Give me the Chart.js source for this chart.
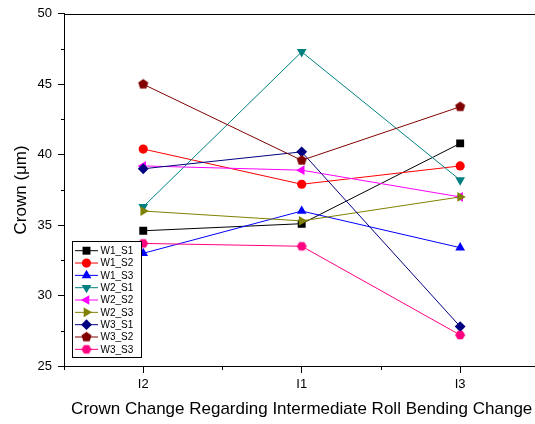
<!DOCTYPE html>
<html>
<head>
<meta charset="utf-8">
<script src="https://cdn.jsdelivr.net/npm/chart.js@4"></script>
<style>
  html, body { margin: 0; padding: 0; background: #fff; overflow: hidden; }
  #wrap { width: 545px; height: 424px; }
</style>
</head>
<body>
<div id="wrap"><canvas id="crownChart" width="545" height="424"></canvas></div>
<script>
// Data
const categories = ['I2', 'I1', 'I3'];
const seriesNames = ['W1_S1', 'W1_S2', 'W1_S3', 'W2_S1', 'W2_S2', 'W2_S3', 'W3_S1', 'W3_S2', 'W3_S3'];
const w1s1 = [34.6, 35.1, 40.8];
const w1s2 = [40.4, 37.9, 39.2];
const w1s3 = [33.0, 36.0, 33.4];
const w2s1 = [36.3, 47.3, 38.2];
const w2s2 = [39.2, 38.9, 37.0];
const w2s3 = [36.0, 35.3, 37.0];
const w3s1 = [39.0, 40.2, 27.8];
const w3s2 = [45.0, 39.6, 43.4];
const w3s3 = [33.7, 33.5, 27.2];
const yTicks = [25, 30, 35, 40, 45, 50];

const FONT = "'Liberation Sans', Arial, sans-serif";

// polygon markers that Chart.js doesn't have
function polygonMarker(sides, r, color, startAngle) {
    const c = document.createElement('canvas');
    const size = Math.ceil(r * 2 + 2);
    c.width = size; c.height = size;
    const g = c.getContext('2d');
    g.fillStyle = color;
    g.beginPath();
    for (let k = 0; k < sides; k++) {
        const a = startAngle + k * 2 * Math.PI / sides;
        const px = size / 2 + r * Math.cos(a);
        const py = size / 2 + r * Math.sin(a);
        if (k === 0) g.moveTo(px, py); else g.lineTo(px, py);
    }
    g.closePath();
    g.fill();
    return c;
}

const pentagon = polygonMarker(5, 5.3, '#800000', -Math.PI / 2);
const hexagon = polygonMarker(6, 5, '#FF0080', 0);

const seriesValues = [w1s1, w1s2, w1s3, w2s1, w2s2, w2s3, w3s1, w3s2, w3s3];
const colors = ['#000000', '#FF0000', '#0000FF', '#008080', '#FF00FF', '#808000', '#000080', '#800000', '#FF0080'];
const styles = [
    { pointStyle: 'rect', radius: 5.6, rotation: 0 },
    { pointStyle: 'circle', radius: 4.6, rotation: 0 },
    { pointStyle: 'triangle', radius: 5.6, rotation: 0 },
    { pointStyle: 'triangle', radius: 5.6, rotation: 180 },
    { pointStyle: 'triangle', radius: 5.6, rotation: -90 },
    { pointStyle: 'triangle', radius: 5.6, rotation: 90 },
    { pointStyle: 'rectRot', radius: 5.4, rotation: 0 },
    { pointStyle: pentagon, radius: 5, rotation: 0 },
    { pointStyle: hexagon, radius: 5, rotation: 0 }
];

const datasets = seriesNames.map((name, i) => ({
    label: name,
    data: seriesValues[i],
    borderColor: colors[i],
    backgroundColor: colors[i],
    borderWidth: 1,
    pointStyle: styles[i].pointStyle,
    pointRadius: styles[i].radius,
    pointRotation: styles[i].rotation,
    pointBorderWidth: 0,
    pointBackgroundColor: colors[i],
    tension: 0,
    order: seriesNames.length - i  // later series on top, like Origin
}));

// minor ticks + top frame line
const framePlugin = {
    id: 'frame',
    afterDraw(chart) {
        const ctx = chart.ctx;
        const x = chart.scales.x, y = chart.scales.y;
        const area = chart.chartArea;
        ctx.save();
        ctx.strokeStyle = '#000';
        ctx.lineWidth = 1;
        ctx.beginPath();
        ctx.moveTo(area.left, Math.round(area.top) + 0.5);
        ctx.lineTo(area.right, Math.round(area.top) + 0.5);
        // y minor ticks
        for (let v = 27.5; v < 50; v += 5) {
            const py = Math.round(y.getPixelForValue(v)) + 0.5;
            ctx.moveTo(area.left - 3, py);
            ctx.lineTo(area.left, py);
        }
        // x minor ticks: edges and between categories
        const xs = [area.left];
        for (let i = 0; i < categories.length - 1; i++) {
            xs.push((x.getPixelForValue(i) + x.getPixelForValue(i + 1)) / 2);
        }
        xs.push(area.right);
        xs.forEach(px => {
            const rx = Math.round(px) + 0.5;
            ctx.moveTo(rx, area.bottom);
            ctx.lineTo(rx, area.bottom + 4);
        });
        ctx.stroke();
        ctx.restore();
    }
};

// Origin-like legend box with line + marker samples
const legendPlugin = {
    id: 'originLegend',
    afterDraw(chart) {
        const ctx = chart.ctx;
        const bx = 72.5, by = 241.5, bw = 69, bh = 116;
        ctx.save();
        ctx.fillStyle = '#fff';
        ctx.fillRect(bx, by, bw, bh);
        ctx.strokeStyle = '#000';
        ctx.lineWidth = 1;
        ctx.strokeRect(bx, by, bw, bh);
        chart.data.datasets.forEach((ds, i) => {
            const cy = 250.7 + i * 12.33;
            ctx.strokeStyle = ds.borderColor;
            ctx.lineWidth = 1;
            ctx.beginPath();
            ctx.moveTo(75, cy);
            ctx.lineTo(98, cy);
            ctx.stroke();
            ctx.fillStyle = ds.borderColor;
            ctx.strokeStyle = ds.borderColor;
            Chart.helpers.drawPoint(ctx, {
                pointStyle: ds.pointStyle,
                radius: ds.pointRadius,
                rotation: ds.pointRotation,
                borderWidth: 0
            }, 86.5, cy);
            ctx.fillStyle = '#000';
            ctx.font = '10px ' + FONT;
            ctx.textAlign = 'left';
            ctx.textBaseline = 'middle';
            ctx.fillText(ds.label, 100.5, cy + 0.5);
        });
        ctx.restore();
    }
};

new Chart(document.getElementById('crownChart'), {
    type: 'line',
    data: { labels: categories, datasets: datasets },
    options: {
        responsive: false,
        animation: false,
        devicePixelRatio: 1,
        layout: { padding: { left: 0, top: 13, right: 4, bottom: 0 } },
        plugins: { legend: { display: false }, tooltip: { enabled: false } },
        scales: {
            x: {
                type: 'category',
                offset: true,
                grid: { display: true, drawOnChartArea: false, offset: false, tickLength: 7, color: '#000', lineWidth: 1 },
                border: { display: true, color: '#000', width: 1 },
                ticks: { color: '#000', font: { family: FONT, size: 13 }, padding: 4, maxRotation: 0 },
                title: { display: true, text: 'Crown Change Regarding Intermediate Roll Bending Change', color: '#000', font: { family: FONT, size: 17 }, padding: { top: 0, bottom: 4 } },
                afterFit(scale) { scale.height = 58; }
            },
            y: {
                min: 25,
                max: 50,
                afterBuildTicks(scale) { scale.ticks = yTicks.map(v => ({ value: v })); },
                grid: { display: true, drawOnChartArea: false, tickLength: 6, color: '#000', lineWidth: 1 },
                border: { display: true, color: '#000', width: 1 },
                ticks: { color: '#000', font: { family: FONT, size: 13 }, padding: 6 },
                title: { display: true, text: 'Crown (μm)', color: '#000', font: { family: FONT, size: 17 }, padding: { top: 11, bottom: 0 } },
                afterFit(scale) { scale.width = 64; }
            }
        }
    },
    plugins: [framePlugin, legendPlugin]
});
</script>
</body>
</html>
